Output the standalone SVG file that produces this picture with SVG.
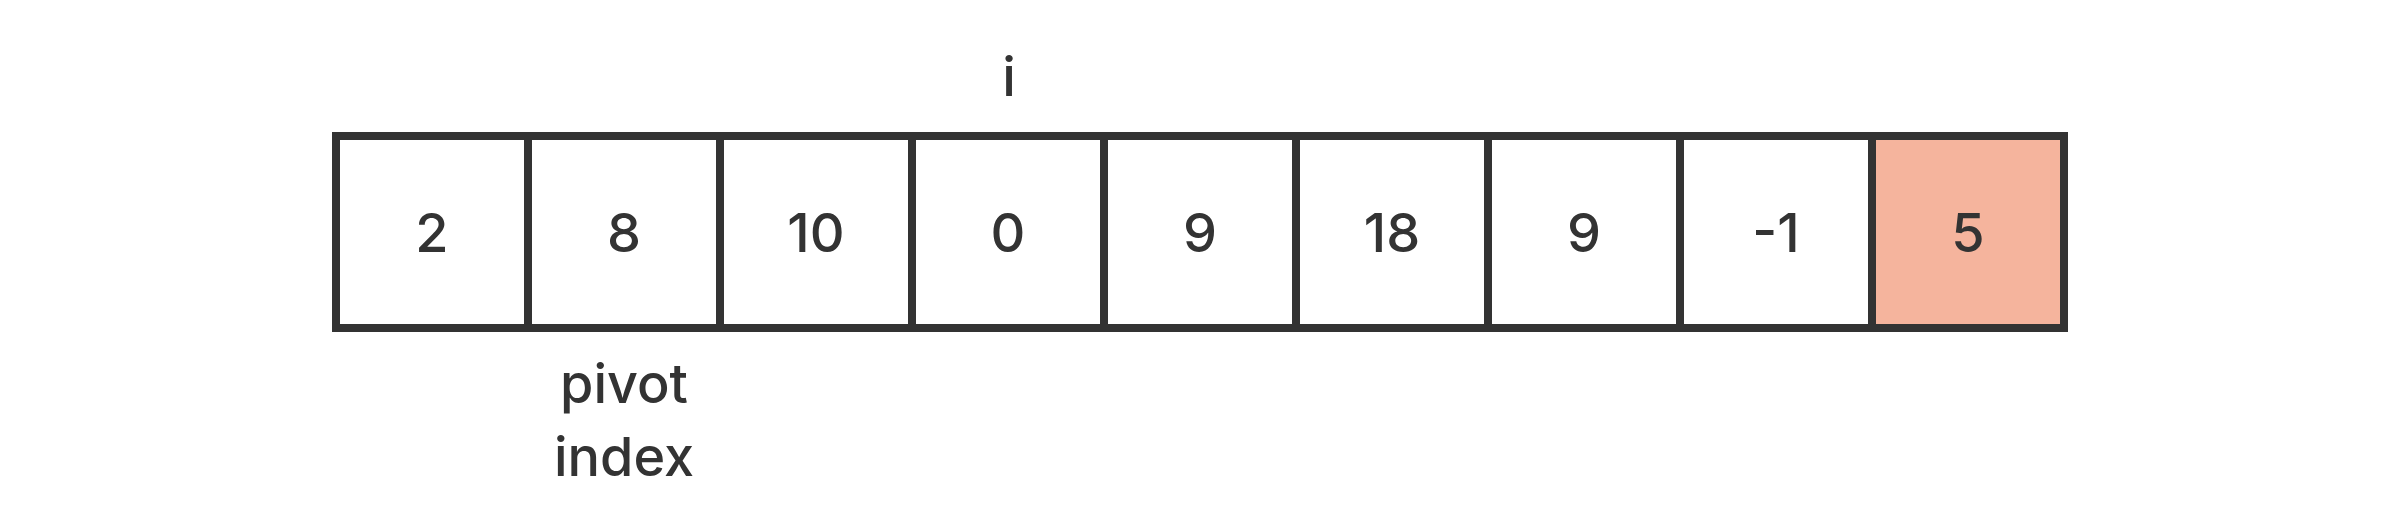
<svg xmlns="http://www.w3.org/2000/svg" width="2400" height="516" viewBox="0 0 2400 516">
<style>
.cell{fill:#ffffff;stroke:#333333;stroke-width:8}
.pivot{fill:#F5B49D}
.t{font-family:Inter,"Noto Sans","Liberation Sans",sans-serif;font-size:54px;font-weight:500;fill:#333333;text-anchor:middle}
</style>
<rect width="2400" height="516" fill="#ffffff"/>
<g id="cell0"><rect class="cell" x="336" y="136" width="192" height="192"/><text class="t" x="432" y="252">2</text></g>
<g id="cell1"><rect class="cell" x="528" y="136" width="192" height="192"/><text class="t" x="624" y="252">8</text></g>
<g id="cell2"><rect class="cell" x="720" y="136" width="192" height="192"/><text class="t" x="816" y="252">10</text></g>
<g id="cell3"><rect class="cell" x="912" y="136" width="192" height="192"/><text class="t" x="1008" y="252">0</text></g>
<g id="cell4"><rect class="cell" x="1104" y="136" width="192" height="192"/><text class="t" x="1200" y="252">9</text></g>
<g id="cell5"><rect class="cell" x="1296" y="136" width="192" height="192"/><text class="t" x="1392" y="252">18</text></g>
<g id="cell6"><rect class="cell" x="1488" y="136" width="192" height="192"/><text class="t" x="1584" y="252">9</text></g>
<g id="cell7"><rect class="cell" x="1680" y="136" width="192" height="192"/><text class="t" x="1776" y="252">-1</text></g>
<g id="cell8"><rect class="cell pivot" x="1872" y="136" width="192" height="192"/><text class="t" x="1968" y="252">5</text></g>
<g id="label-i"><text class="t" x="1009" y="96">i</text></g>
<g id="label-pivot-index"><text class="t" x="624" y="403">pivot</text><text class="t" x="624" y="476">index</text></g>
<g id="connectors"></g>
</svg>
